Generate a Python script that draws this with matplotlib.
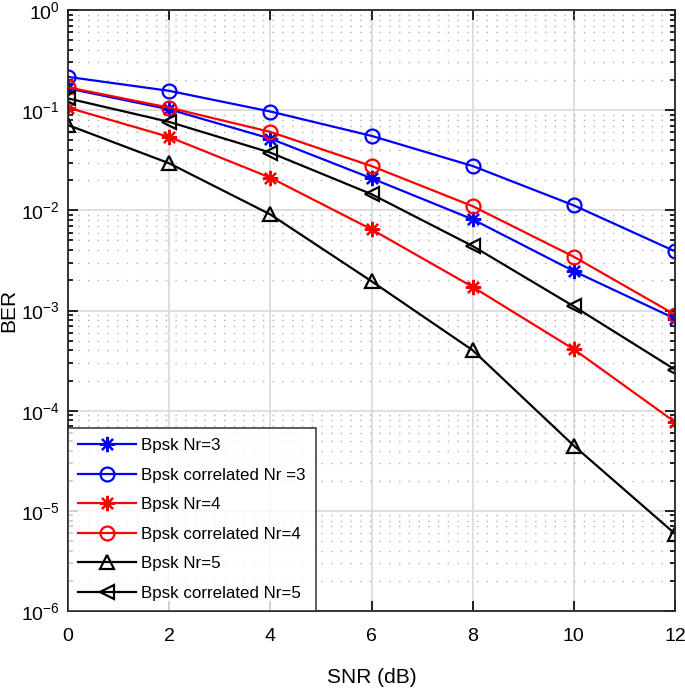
import numpy as np
import matplotlib
matplotlib.use("Agg")
import matplotlib.pyplot as plt
from matplotlib.ticker import LogLocator, FixedLocator, NullFormatter

plt.rcParams['font.family'] = ['Liberation Sans', 'DejaVu Sans']
plt.rcParams['mathtext.fontset'] = 'custom'
plt.rcParams['mathtext.rm'] = 'Liberation Sans'
plt.rcParams['mathtext.it'] = 'Liberation Sans'

snr = [0, 2, 4, 6, 8, 10, 12]
ber_nr3 = [0.165, 0.102, 0.052, 0.0209, 0.00813, 0.00247, 0.00083]
ber_corr_nr3 = [0.215, 0.156, 0.097, 0.0554, 0.0277, 0.0112, 0.0039]
ber_nr4 = [0.106, 0.054, 0.0212, 0.00646, 0.00172, 0.00041, 0.000077]
ber_corr_nr4 = [0.169, 0.106, 0.0607, 0.0277, 0.0110, 0.00344, 0.00091]
ber_nr5 = [0.071, 0.0295, 0.0091, 0.00196, 0.000401, 0.0000447, 0.0000059]
ber_corr_nr5 = [0.131, 0.0764, 0.0377, 0.0145, 0.0044, 0.0011, 0.000257]

labels = ["Bpsk Nr=3", "Bpsk correlated Nr =3", "Bpsk Nr=4",
          "Bpsk correlated Nr=4", "Bpsk Nr=5", "Bpsk correlated Nr=5"]
series = [ber_nr3, ber_corr_nr3, ber_nr4, ber_corr_nr4, ber_nr5, ber_corr_nr5]
colors = ['#0000ff', '#0000ff', '#ff0000', '#ff0000', '#000000', '#000000']
markers = [(8, 2, 0), 'o', (8, 2, 0), 'o', '^', '<']

fig = plt.figure(figsize=(6.85, 6.91), dpi=100)
ax = fig.add_axes([0.0993, 0.1158, 0.8861, 0.8697])

for y, lab, c, m in zip(series, labels, colors, markers):
    ms = 11 if isinstance(m, tuple) else 10
    ax.semilogy(snr, y, color=c, marker=m, markersize=ms, markerfacecolor='none',
                markeredgecolor=c, markeredgewidth=1.6, linewidth=1.6, label=lab)

ax.set_xlim(0, 12)
ax.set_ylim(1e-6, 1)
ax.set_xticks(snr)
ax.set_xticklabels([str(s) for s in snr])
ax.yaxis.set_major_locator(FixedLocator([10.0**k for k in range(-6, 1)]))
ax.set_yticklabels([r'$10^{%d}$' % k for k in range(-6, 1)])
ax.yaxis.set_minor_locator(LogLocator(base=10, subs=np.arange(2, 10), numticks=20))
ax.yaxis.set_minor_formatter(NullFormatter())

ax.grid(True, which='major', color='#dcdcdc', linewidth=1.3, linestyle='-')
ax.grid(True, which='minor', axis='y', color='#b0b0b0', linewidth=1.0, linestyle=(0, (1, 6)))
ax.set_axisbelow(True)

ax.tick_params(which='both', direction='in', top=True, right=True, labelsize=14)
ax.tick_params(which='major', length=7, width=1.2)
ax.tick_params(which='minor', length=3.5, width=1.2)
ax.tick_params(axis='x', which='major', pad=12)
ax.tick_params(axis='y', which='major', pad=6)
for s in ax.spines.values():
    s.set_linewidth(1.3)
    s.set_color('#262626')

ax.set_xlabel('SNR (dB)', fontsize=15, labelpad=17)
ax.set_ylabel('BER', fontsize=15)
ax.yaxis.set_label_coords(-0.082, 0.5)

leg = ax.legend(loc='lower left', fontsize=12.2, frameon=True, fancybox=False,
                edgecolor='#262626', borderaxespad=0.0, handlelength=3.4,
                labelspacing=0.86, borderpad=0.6, handletextpad=0.3)
leg.get_frame().set_linewidth(1.3)

fig.savefig('out.png', dpi=100)
